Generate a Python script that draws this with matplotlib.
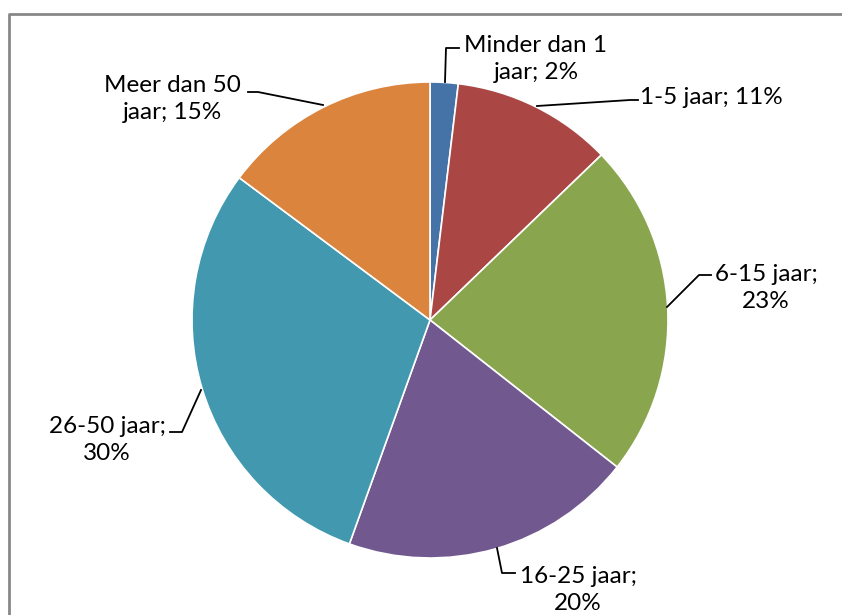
import matplotlib.pyplot as plt

# share of each category
labels = ["Minder dan 1\njaar; 2%", "1-5 jaar; 11%", "6-15 jaar;\n23%",
          "16-25 jaar;\n20%", "26-50 jaar;\n30%", "Meer dan 50\njaar; 15%"]
values = [1.9, 10.9, 22.8, 19.9, 29.7, 14.8]
colors = ["#4572A7", "#AA4643", "#89A54E", "#71588F", "#4198AF", "#DB843D"]

W, H = 842, 615
fig = plt.figure(figsize=(W / 100, H / 100), dpi=100)
ax = fig.add_axes([0, 0, 1, 1])

cx, cy, r = 430, H - 320, 238
ax.pie(values, colors=colors, startangle=90, counterclock=False,
       center=(cx, cy), radius=r, frame=True,
       wedgeprops=dict(edgecolor="white", linewidth=1.2))
ax.set_xlim(0, W)
ax.set_ylim(0, H)
ax.set_aspect("equal")
ax.axis("off")

# chart border (cropped at right and bottom)
ax.plot([9, 9, W + 5], [-5, H - 14, H - 14], color="#878787", lw=2, zorder=0)

# label text positions and leader lines, image pixel coords (y down)
text_pos = [(536, 59), (711, 98), (766, 288), (578, 590), (107, 440), (172, 99)]
leaders = [
    [(445, 82), (446, 48), (459, 48)],
    [(537, 106), (630, 100), (638, 100)],
    [(667, 307), (699, 275), (711, 275)],
    [(497, 548), (502, 573), (515, 573)],
    [(201, 390), (182, 432), (170, 432)],
    [(323, 105), (258, 92), (248, 92)],
]

for lab, (tx, ty), pts in zip(labels, text_pos, leaders):
    xs = [p[0] for p in pts]
    ys = [H - p[1] for p in pts]
    ax.plot(xs, ys, color="black", lw=1.3, zorder=5)
    ax.text(tx, H - ty, lab, ha="center", va="center", fontsize=17.5,
            family="Lato", linespacing=1.3, color="black", zorder=6)

fig.savefig("out.png", dpi=100)
